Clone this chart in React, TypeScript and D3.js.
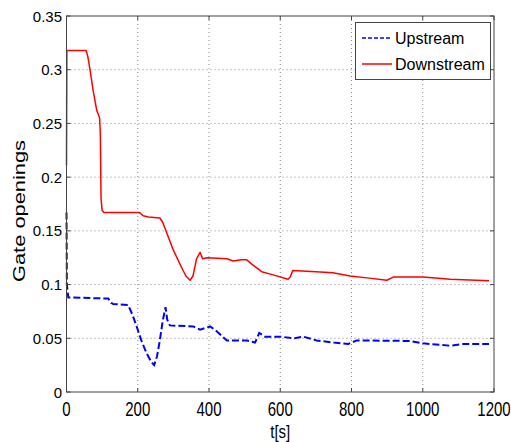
import React from "react";
import * as d3 from "d3";

// readings taken off the original figure
const xTicks = [0, 200, 400, 600, 800, 1000, 1200];
const yTicks = [0, 0.05, 0.1, 0.15, 0.2, 0.25, 0.3, 0.35];

const downT = [0, 1, 55, 60, 66, 75, 85, 93, 95, 97, 100, 105, 205, 215, 230, 262, 270, 285, 300, 320, 335, 347, 355, 365, 375, 382, 395, 450, 468, 490, 506, 520, 548, 580, 622, 628, 635, 700, 748, 796, 850, 899, 917, 1001, 1077, 1186];
const downV = [0.211, 0.318, 0.318, 0.312, 0.3, 0.28, 0.262, 0.255, 0.24, 0.18, 0.169, 0.167, 0.167, 0.164, 0.163, 0.162, 0.158, 0.145, 0.132, 0.118, 0.108, 0.104, 0.108, 0.124, 0.13, 0.124, 0.125, 0.124, 0.122, 0.123, 0.123, 0.119, 0.112, 0.109, 0.105, 0.107, 0.113, 0.112, 0.111, 0.108, 0.106, 0.104, 0.107, 0.107, 0.105, 0.1035];

const upT = [0, 1, 5, 117, 125, 131, 173, 185, 197, 210, 225, 238, 246, 254, 262, 270, 278, 283, 290, 356, 375, 403, 420, 450, 506, 529, 535, 541, 557, 600, 640, 665, 702, 750, 791, 815, 964, 1001, 1077, 1114, 1186];
const upV = [0.167, 0.1, 0.088, 0.087, 0.083, 0.082, 0.081, 0.072, 0.061, 0.048, 0.036, 0.028, 0.025, 0.033, 0.048, 0.066, 0.079, 0.067, 0.062, 0.061, 0.058, 0.061, 0.057, 0.048, 0.048, 0.046, 0.05, 0.055, 0.0515, 0.0515, 0.05, 0.0515, 0.048, 0.046, 0.0447, 0.048, 0.0475, 0.0453, 0.0431, 0.0447, 0.0447];

const seriesNames = ["Upstream", "Downstream"];

export default function App() {
  const ref = React.useRef<SVGSVGElement>(null);

  React.useEffect(() => {
    document.body.style.margin = "0";
    drawChart();
  }, []);

  function drawChart() {
    const left = 66.5, right = 494, top = 16, bottom = 392;
    const font = "'Liberation Sans', Arial, sans-serif";

    const svg = d3.select(ref.current);
    svg.selectAll("*").remove();

    const x = d3.scaleLinear().domain([0, 1200]).range([left, right]);
    const y = d3.scaleLinear().domain([0, 0.35]).range([bottom, top]);

    // dotted grid
    const grid = svg.append("g");
    xTicks.slice(1, -1).forEach((t) => {
      grid.append("line")
        .attr("x1", x(t)).attr("x2", x(t))
        .attr("y1", top).attr("y2", bottom)
        .attr("stroke", "#888").attr("stroke-dasharray", "1,3");
    });
    yTicks.slice(1, -1).forEach((t) => {
      grid.append("line")
        .attr("x1", left).attr("x2", right)
        .attr("y1", y(t)).attr("y2", y(t))
        .attr("stroke", "#888").attr("stroke-dasharray", "1,3");
    });

    const upPts: [number, number][] = upT.map((t, i) => [x(t), y(upV[i])]);
    const downPts: [number, number][] = downT.map((t, i) => [x(t), y(downV[i])]);
    const path = d3.line();

    svg.append("path")
      .attr("d", path(downPts))
      .attr("fill", "none")
      .attr("stroke", "#ff0000")
      .attr("stroke-width", 1.5)
      .attr("stroke-linejoin", "round");

    svg.append("path")
      .attr("d", path(upPts))
      .attr("fill", "none")
      .attr("stroke", "#0000ff")
      .attr("stroke-width", 2)
      .attr("stroke-dasharray", "7,3");

    // frame
    svg.append("rect")
      .attr("x", left).attr("y", top)
      .attr("width", right - left).attr("height", bottom - top)
      .attr("fill", "none").attr("stroke", "#444").attr("stroke-width", 1);

    // ticks inside, on both sides
    const tl = 4;
    xTicks.forEach((t) => {
      svg.append("line").attr("x1", x(t)).attr("x2", x(t)).attr("y1", bottom).attr("y2", bottom - tl).attr("stroke", "#444");
      svg.append("line").attr("x1", x(t)).attr("x2", x(t)).attr("y1", top).attr("y2", top + tl).attr("stroke", "#444");
      // x tick labels are drawn taller in the original
      svg.append("text")
        .attr("transform", `translate(${x(t)},416) scale(1,1.4)`)
        .attr("text-anchor", "middle")
        .attr("font-family", font).attr("font-size", 15)
        .text(String(t));
    });
    yTicks.forEach((t) => {
      svg.append("line").attr("x1", left).attr("x2", left + tl).attr("y1", y(t)).attr("y2", y(t)).attr("stroke", "#444");
      svg.append("line").attr("x1", right).attr("x2", right - tl).attr("y1", y(t)).attr("y2", y(t)).attr("stroke", "#444");
      svg.append("text")
        .attr("x", 62).attr("y", y(t) + 5.5)
        .attr("text-anchor", "end")
        .attr("font-family", font).attr("font-size", 15)
        .text(String(t));
    });

    // axis labels
    svg.append("text")
      .attr("transform", `translate(${(left + right) / 2},438) scale(1,1.25)`)
      .attr("text-anchor", "middle")
      .attr("font-family", font).attr("font-size", 15)
      .text("t[s]");
    svg.append("text")
      .attr("transform", `translate(24.5,211) rotate(-90)`)
      .attr("text-anchor", "middle")
      .attr("font-family", font).attr("font-size", 16)
      .attr("textLength", 142)
      .attr("lengthAdjust", "spacingAndGlyphs")
      .text("Gate openings");

    // legend
    const lg = svg.append("g");
    lg.append("rect")
      .attr("x", 355.5).attr("y", 22.5)
      .attr("width", 135).attr("height", 57)
      .attr("fill", "white").attr("stroke", "#444");
    const styles = [
      { color: "#0000ff", dash: "4,2", w: 1.5 },
      { color: "#ff0000", dash: null, w: 1.5 },
    ];
    seriesNames.forEach((name, i) => {
      const yy = 38 + i * 26;
      const l = lg.append("line")
        .attr("x1", 362).attr("x2", 392)
        .attr("y1", yy).attr("y2", yy)
        .attr("stroke", styles[i].color)
        .attr("stroke-width", styles[i].w);
      if (styles[i].dash) l.attr("stroke-dasharray", styles[i].dash);
      lg.append("text")
        .attr("x", 395).attr("y", yy + 6)
        .attr("font-family", font).attr("font-size", 16)
        .text(name);
    });
  }

  return <svg ref={ref} width={511} height={442} style={{ display: "block", background: "white" }} />;
}
